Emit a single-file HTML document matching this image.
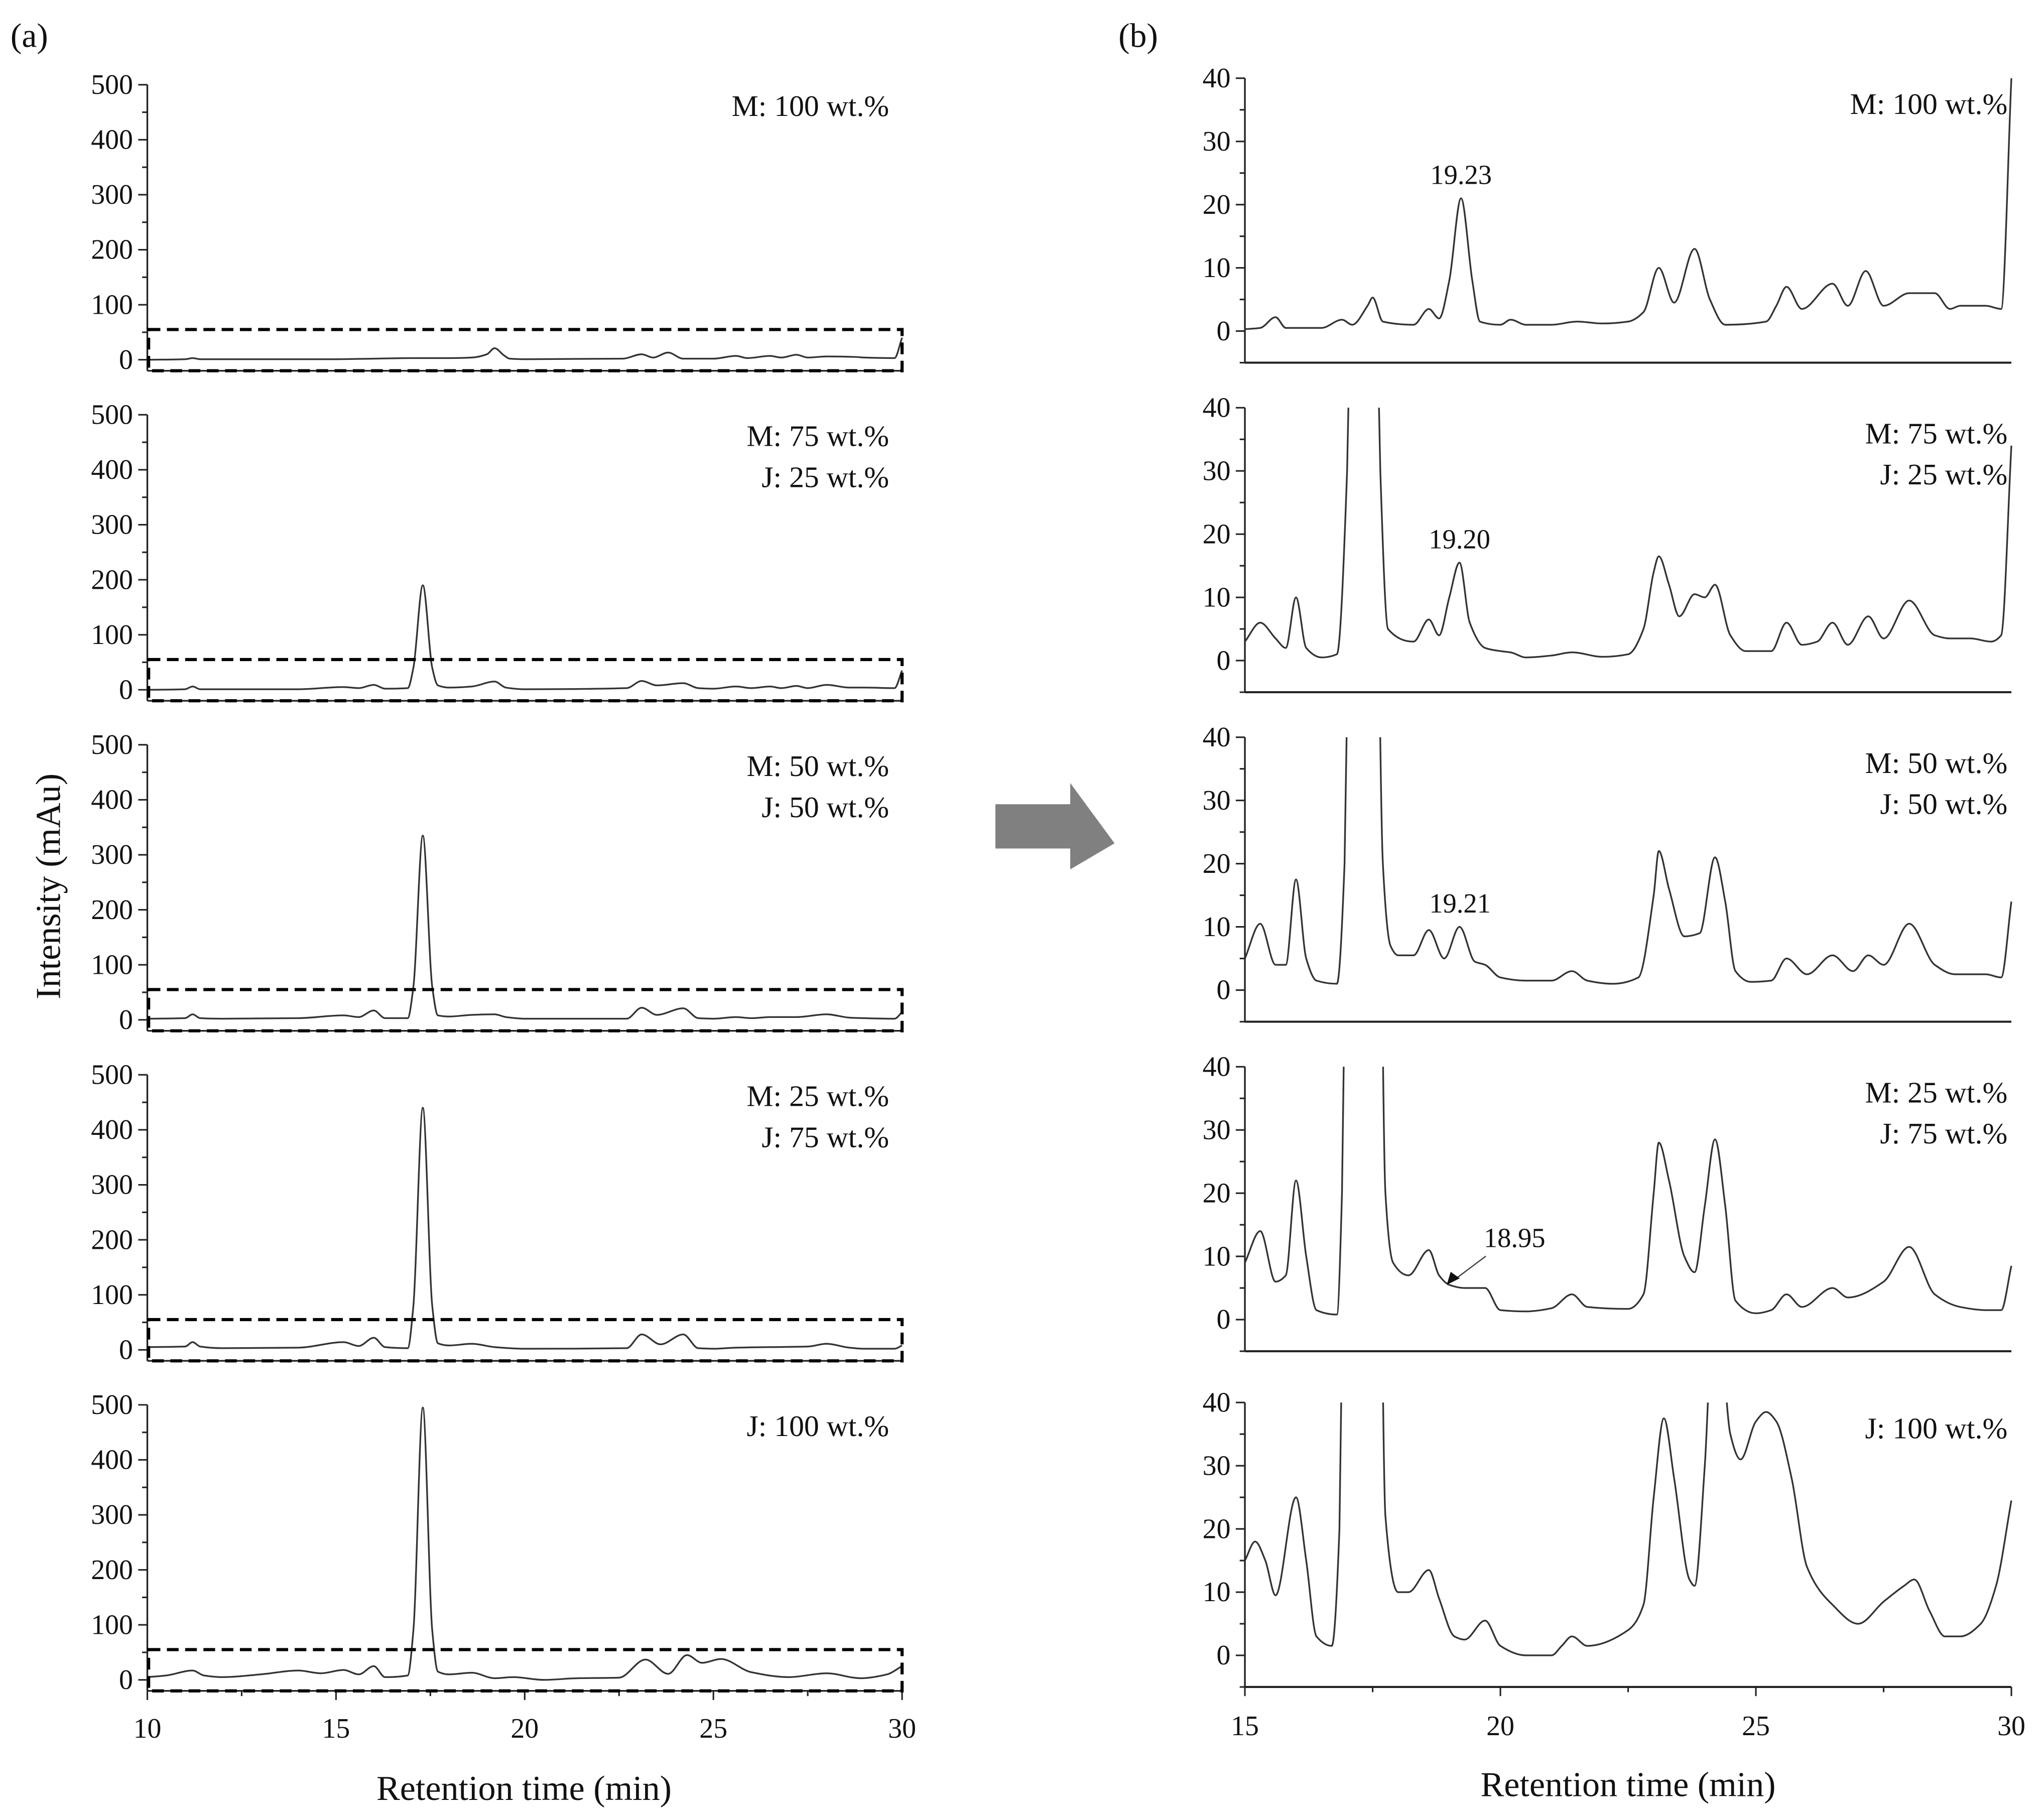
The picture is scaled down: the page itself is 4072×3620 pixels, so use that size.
<!DOCTYPE html>
<html><head><meta charset="utf-8"><style>
html,body{margin:0;padding:0;background:#fff;}
svg{display:block;}
text{font-family:"Liberation Serif","Times New Roman","Tinos","DejaVu Serif","Noto Serif CJK SC",serif;fill:#111;}
</style></head><body>
<svg id="fig" width="4072" height="3620" viewBox="0 0 1568 1394" xmlns="http://www.w3.org/2000/svg">
<text x="8" y="36" font-size="26">(a)</text>
<text x="858" y="36" font-size="26">(b)</text>
<text transform="translate(46,680) rotate(-90)" text-anchor="middle" font-size="27">Intensity (mAu)</text>
<text x="402" y="1381" text-anchor="middle" font-size="27">Retention time (min)</text>
<text x="1249" y="1378" text-anchor="middle" font-size="27">Retention time (min)</text>
<polygon points="763.6,617 821,617 821,600.7 855,647 821,667 821,651 763.6,651" fill="#808080"/>
</svg>
<script>
const labelsA = [["M: 100 wt.%"],["M: 75 wt.%","J: 25 wt.%"],["M: 50 wt.%","J: 50 wt.%"],["M: 25 wt.%","J: 75 wt.%"],["J: 100 wt.%"]];
const yTicksA = [0,100,200,300,400,500];
const xTicksA = [10,15,20,25,30];
const yTicksB = [0,10,20,30,40];
const xTicksB = [15,20,25,30];
const boxTopA = 55;
const peakLabels = ["19.23","19.20","19.21","18.95"];
const peakTimes = [19.23,19.20,19.21,18.95];
const peakVals = [21,15.5,10,5.5];

const a1 = [[10,0],[11,1],[11.2,3],[11.4,1],[15,1],[16,2],[17,3],[18,3],[18.6,4],[19.0,10],[19.2,21],[19.45,8],[19.6,2],[20,1],[22.6,2],[23.1,10],[23.4,4],[23.8,13],[24.2,2],[25,2],[25.6,7],[25.9,3],[26.5,7],[26.8,4],[27.2,9],[27.5,4],[28,6],[28.8,5],[29,4],[29.8,3],[30,40]];
const a2 = [[10,0],[11,1],[11.2,6],[11.4,1],[12,1],[14,1],[15.2,5],[15.6,3],[16,9],[16.3,2],[16.9,3],[17.05,40],[17.3,190],[17.55,40],[17.7,8],[18,4],[18.6,6],[19.2,15],[19.5,4],[20,1],[22.7,3],[23.1,16],[23.5,8],[24.2,12],[24.6,3],[25,2],[25.6,6],[26,3],[26.5,6],[26.8,3],[27.2,7],[27.5,3],[28,9],[28.6,4],[29,4],[29.8,3],[30,35]];
const a3 = [[10,2],[11,3],[11.2,10],[11.4,3],[12,2],[14,3],[15.2,8],[15.6,5],[16,17],[16.3,3],[16.9,3],[17.05,60],[17.3,335],[17.55,60],[17.7,8],[18,6],[18.6,9],[19.2,10],[19.5,5],[20,2],[22.7,2],[23.1,22],[23.5,9],[24.2,21],[24.6,3],[25,2],[25.6,5],[26,3],[26.5,5],[27.2,5],[28,10],[28.6,4],[29,3],[29.8,2],[30,14]];
const a4 = [[10,5],[11,6],[11.2,14],[11.4,6],[12,3],[14,4],[15.2,14],[15.6,7],[16,22],[16.3,5],[16.9,3],[17.05,80],[17.3,440],[17.55,80],[17.7,12],[18,8],[18.6,11],[19.2,5],[20,2],[22.7,3],[23.1,28],[23.6,10],[24.2,28],[24.6,3],[25,2],[25.6,4],[26.5,5],[27.5,6],[28,11],[28.6,4],[29,2],[29.8,2],[30,8]];
const a5 = [[10,5],[10.5,8],[11.2,17],[11.5,8],[12,5],[13,10],[14,17],[14.6,12],[15.2,18],[15.6,10],[16,25],[16.3,5],[16.9,8],[17.05,90],[17.3,495],[17.55,90],[17.7,15],[18,10],[18.6,13],[19.2,3],[19.7,5],[20.5,0],[21.4,3],[22.5,4],[23.2,37],[23.8,11],[24.3,45],[24.7,31],[25.2,38],[26,14],[27,5],[28,12],[28.9,3],[29.6,10],[30,25]];

const b1 = [[15,0.3],[15.3,0.5],[15.6,2.2],[15.8,0.5],[16.5,0.5],[16.9,1.8],[17.1,1],[17.4,4],[17.5,5.3],[17.7,1.5],[18.3,1],[18.6,3.5],[18.8,2],[19.0,8],[19.23,21],[19.45,8],[19.6,1.5],[20,1],[20.2,1.8],[20.5,1],[21,1],[21.5,1.5],[22,1.2],[22.5,1.5],[22.8,3],[23.1,10],[23.4,4.5],[23.8,13],[24.1,5],[24.4,1],[25.2,1.5],[25.4,4],[25.6,7],[25.9,3.5],[26.5,7.5],[26.8,4],[27.15,9.5],[27.5,4],[28,6],[28.5,6],[28.8,3.5],[29,4],[29.5,4],[29.8,3.5],[30,40]];
const b2 = [[15,3],[15.3,6],[15.6,3.5],[15.8,2],[16,10],[16.2,2],[16.5,0.5],[16.8,1],[17.0,30],[17.1,70],[17.3,200],[17.55,70],[17.65,30],[17.8,5],[18.3,3],[18.6,6.5],[18.8,4],[19.0,10],[19.2,15.5],[19.4,6],[19.7,2],[20,1.5],[20.2,1.3],[20.5,0.5],[21,0.8],[21.4,1.3],[22,0.6],[22.5,1],[22.8,5],[23.0,14],[23.1,16.5],[23.3,12],[23.5,7],[23.8,10.5],[24,10],[24.2,12],[24.5,4],[24.8,1.5],[25.3,1.5],[25.6,6],[25.9,2.5],[26.2,3],[26.5,6],[26.8,2.5],[27.2,7],[27.5,3.5],[28,9.5],[28.5,4],[28.8,3.5],[29.2,3.5],[29.6,3],[29.8,4],[30,34]];
const b3 = [[15,5],[15.3,10.5],[15.6,4],[15.8,4],[16,17.5],[16.2,5],[16.4,1.5],[16.8,1],[16.95,20],[17.05,70],[17.3,340],[17.6,70],[17.7,20],[17.85,7],[18,5.5],[18.3,5.5],[18.6,9.5],[18.9,5],[19.2,10],[19.5,4.5],[19.7,4],[20,2],[20.5,1.5],[21,1.5],[21.4,3],[21.7,1.5],[22.2,1],[22.7,2],[23.0,15],[23.1,22],[23.3,16],[23.6,8.5],[23.9,9],[24.2,21],[24.4,14],[24.6,3],[24.9,1.3],[25.3,1.5],[25.6,5],[26,2.5],[26.5,5.5],[26.9,3],[27.2,5.5],[27.5,4],[28.0,10.5],[28.5,4],[28.9,2.5],[29.5,2.5],[29.8,2],[30,14]];
const b4 = [[15,9],[15.3,14],[15.6,6],[15.8,7],[16,22],[16.2,10],[16.4,1.5],[16.8,0.8],[16.9,20],[17.0,80],[17.3,440],[17.65,80],[17.75,20],[17.9,9],[18.2,7],[18.6,11],[18.8,7],[19.0,5.5],[19.3,5],[19.7,5],[20,1.5],[20.5,1.3],[21,1.8],[21.4,4],[21.7,2],[22.5,1.7],[22.8,4],[23.0,20],[23.1,28],[23.3,22],[23.6,10],[23.8,7.5],[24.0,18],[24.2,28.5],[24.4,18],[24.6,3],[25,1],[25.3,1.5],[25.6,4],[25.9,2],[26.5,5],[26.8,3.5],[27.5,6],[28.0,11.5],[28.5,4],[29,2],[29.5,1.5],[29.8,1.5],[30,8.5]];
const b5 = [[15,15],[15.2,18],[15.4,15],[15.6,9.5],[16,25],[16.2,15],[16.4,3],[16.7,1.5],[16.85,20],[16.95,80],[17.3,500],[17.65,80],[17.75,22],[18,10],[18.2,10],[18.6,13.5],[18.8,9],[19.1,3],[19.3,2.5],[19.7,5.5],[20,1.5],[20.5,0],[21,0],[21.2,1.5],[21.4,3],[21.7,1.5],[22.5,4],[22.8,8],[23.0,25],[23.2,37.5],[23.4,28],[23.7,12],[23.8,11],[24.0,30],[24.2,60],[24.35,48],[24.5,35],[24.7,31],[25.0,37],[25.2,38.5],[25.4,37],[25.7,28],[26,14],[26.5,8],[27,5],[27.5,8.5],[27.9,11],[28.1,12],[28.4,7],[28.7,3],[29,3],[29.4,5],[29.7,11],[30,24.5]];

const seriesA = [a1,a2,a3,a4,a5];
const seriesB = [b1,b2,b3,b4,b5];

const NS = "http://www.w3.org/2000/svg";
const svg = document.getElementById('fig');
function mk(tag, attrs, parent){
  const e = document.createElementNS(NS, tag);
  for (const k in attrs) e.setAttribute(k, attrs[k]);
  (parent||svg).appendChild(e);
  return e;
}
function smoothPath(pts){
  const n = pts.length;
  const dx=[], dy=[], m=[];
  for (let i=0;i<n-1;i++){ dx.push(pts[i+1][0]-pts[i][0]); dy.push(pts[i+1][1]-pts[i][1]); m.push(dy[i]/dx[i]); }
  const t=[m[0]];
  for (let i=1;i<n-1;i++){
    if (m[i-1]*m[i]<=0) t.push(0);
    else { const w1=2*dx[i]+dx[i-1], w2=dx[i]+2*dx[i-1]; t.push((w1+w2)/(w1/m[i-1]+w2/m[i])); }
  }
  t.push(m[n-2]);
  let d = "M" + pts[0][0].toFixed(2) + "," + pts[0][1].toFixed(2);
  for (let i=0;i<n-1;i++){
    const h = dx[i]/3;
    d += " C"+(pts[i][0]+h).toFixed(2)+","+(pts[i][1]+t[i]*h).toFixed(2)+" "+(pts[i+1][0]-h).toFixed(2)+","+(pts[i+1][1]-t[i+1]*h).toFixed(2)+" "+pts[i+1][0].toFixed(2)+","+pts[i+1][1].toFixed(2);
  }
  return d;
}

const AX0 = 113, AX1 = 692;
const xA = t => AX0 + (t-10)/(30-10)*(AX1-AX0);
for (let p=0;p<5;p++){
  const zeroY = 276 + p*253.2;
  const yA = v => zeroY - v/500*211;
  const bottom = yA(-20);
  const g = mk('g', {});
  
  
  const yl = mk('line', {x1:AX0,x2:AX0,y1:yA(500),y2:bottom,stroke:'#222','stroke-width':1.3}, g);
  
  
  for (let v=0; v<=500; v+=50){
    const major = v%100===0;
    mk('line',{x1:AX0-(major?7:4),x2:AX0,y1:yA(v),y2:yA(v),stroke:'#222','stroke-width':1.2},g);
  }
  yTicksA.forEach(v=>{
    const t = mk('text',{x:AX0-11,y:yA(v)+7,'text-anchor':'end','font-size':21.5},g);
    t.textContent = v;
    
    
  });
  const xl = mk('line',{x1:AX0,x2:AX1,y1:bottom,y2:bottom,stroke:'#222','stroke-width':1.3},g);
  
  
  if (p===4){
    for (let t=10;t<=30;t+=2.5){
      const major = t%5===0;
      mk('line',{x1:xA(t),x2:xA(t),y1:bottom,y2:bottom+(major?7:4),stroke:'#222','stroke-width':1.2},g);
    }
    xTicksA.forEach(t=>{
      const tx = mk('text',{x:xA(t),y:bottom+36,'text-anchor':'middle','font-size':21.5},g);
      tx.textContent = t;
      
      
    });
  }
  const pts = seriesA[p].map(d=>[xA(d[0]), yA(d[1])]);
  const path = mk('path',{d:smoothPath(pts),fill:'none',stroke:'#333','stroke-width':1.3},g);
  
  
  const box = mk('rect',{x:AX0+1,y:yA(boxTopA),width:AX1-AX0-1,height:bottom-yA(boxTopA),fill:'none',stroke:'#000','stroke-width':2.4,'stroke-dasharray':'9,5'},g);
  
  
  labelsA[p].forEach((s,i)=>{
    const t = mk('text',{x:682,y:zeroY-187+i*31.5,'text-anchor':'end','font-size':23},g);
    t.textContent = s;
    
    
  });
}

const BX0 = 955, BX1 = 1543;
const xB = t => BX0 + (t-15)/(30-15)*(BX1-BX0);
for (let p=0;p<5;p++){
  const zeroY = (p===4?1270:254 + p*252.8);
  const yB = v => zeroY - v/40*194;
  const bottom = yB(-5);
  const g = mk('g', {});
  
  
  const cid = 'clipb'+p;
  const cp = mk('clipPath',{id:cid},g);
  mk('rect',{x:BX0-2,y:yB(40),width:BX1-BX0+6,height:bottom-yB(40)},cp);
  const yl = mk('line',{x1:BX0,x2:BX0,y1:yB(40),y2:bottom,stroke:'#222','stroke-width':1.3},g);
  
  
  for (let v=-5; v<=40; v+=5){
    const major = v%10===0;
    mk('line',{x1:BX0-(major?7:4),x2:BX0,y1:yB(v),y2:yB(v),stroke:'#222','stroke-width':1.2},g);
  }
  yTicksB.forEach(v=>{
    const t = mk('text',{x:BX0-11,y:yB(v)+7,'text-anchor':'end','font-size':21.5},g);
    t.textContent = v;
    
    
  });
  const xl = mk('line',{x1:BX0,x2:BX1,y1:bottom,y2:bottom,stroke:'#222','stroke-width':1.6},g);
  
  
  if (p===4){
    for (let t=15;t<=30;t+=2.5){
      const major = t%5===0;
      mk('line',{x1:xB(t),x2:xB(t),y1:bottom,y2:bottom+(major?7:4),stroke:'#222','stroke-width':1.2},g);
    }
    xTicksB.forEach(t=>{
      const tx = mk('text',{x:xB(t),y:bottom+37,'text-anchor':'middle','font-size':21.5},g);
      tx.textContent = t;
      
      
    });
  }
  const pts = seriesB[p].map(d=>[xB(d[0]), yB(d[1])]);
  const path = mk('path',{d:smoothPath(pts),fill:'none',stroke:'#333','stroke-width':1.3,'clip-path':'url(#'+cid+')'},g);
  
  
  labelsA[p].forEach((s,i)=>{
    const t = mk('text',{x:1540,y:yB(36)+8+i*31.5,'text-anchor':'end','font-size':23},g);
    t.textContent = s;
    
    
  });
  if (p<4){
    if (p<3){
      const t = mk('text',{x:xB(peakTimes[p]),y:yB(peakVals[p])-11,'text-anchor':'middle','font-size':21},g);
      t.textContent = peakLabels[p];
      
      
    } else {
      const px = xB(peakTimes[p]), py = yB(peakVals[p]);
      const t = mk('text',{x:px+52,y:py-29,'text-anchor':'middle','font-size':21},g);
      t.textContent = peakLabels[p];
      
      
      const ln = mk('line',{x1:px+30,y1:py-22,x2:px+6,y2:py-4,stroke:'#444','stroke-width':1},g);
      
      
      mk('polygon',{points:(px)+','+(py)+' '+(px+3)+','+(py-10)+' '+(px+10)+','+(py-5),fill:'#111'},g);
    }
  }
}
</script>
</body></html>
